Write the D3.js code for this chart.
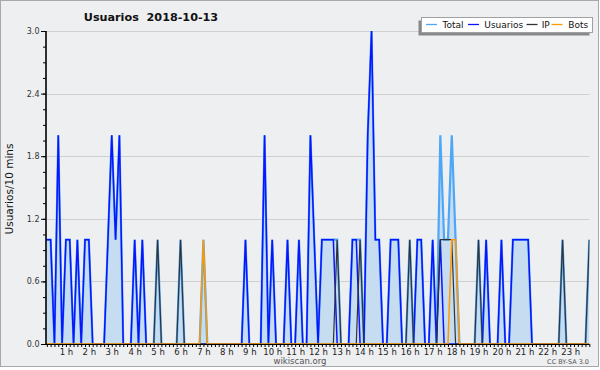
<!DOCTYPE html>
<html><head><meta charset="utf-8">
<script src="https://cdn.jsdelivr.net/npm/d3@7"></script>
<style>
html,body{margin:0;padding:0;background:#fff;}
svg{display:block;font-family:"DejaVu Sans",sans-serif;}
</style></head>
<body>
<div id="chart"></div>
<script>
// 10-minute slots of 2018-10-13 (6 per hour, 144 slots)
const hours = d3.range(0, 24);
const hourLabels = hours.map(h => h + " h");
const yTicks = [0.0, 0.6, 1.2, 1.8, 2.4, 3.0];
const seriesNames = ["Total", "Usuarios", "IP", "Bots"];

const usuarios = [
  1,1,1,0,2,0,  1,1,0,1,0,1,  1,0,0,0,0,1,  2,1,2,0,0,0,
  1,0,1,0,0,0,  0,0,0,0,0,0,  0,0,0,0,0,0,  0,0,0,0,0,0,
  0,0,0,0,0,1,  0,0,0,0,2,0,  1,0,0,0,1,0,  0,1,0,0,2,1,
  0,1,1,1,1,0,  0,0,0,1,1,0,  0,2,3,1,1,0,  0,1,1,1,0,0,
  0,0,1,1,0,0,  1,0,1,0,0,0,  0,0,0,0,0,0,  0,0,1,0,0,0,
  1,0,0,1,1,1,  1,1,0,0,0,0,  0,0,0,0,0,0,  0,0,0,0,0,0
];
const ip = [
  0,0,0,0,0,0,  0,0,0,0,0,0,  0,0,0,0,0,0,  0,0,0,0,0,0,
  0,0,0,0,0,0,  1,0,0,0,0,0,  1,0,0,0,0,0,  0,0,0,0,0,0,
  0,0,0,0,0,0,  0,0,0,0,0,0,  0,0,0,0,0,0,  0,0,0,0,0,0,
  0,0,0,0,0,1,  0,0,0,0,0,1,  0,0,0,0,0,0,  0,0,0,0,0,0,
  1,0,0,0,0,0,  0,0,1,1,1,1,  0,0,0,0,0,0,  1,0,0,0,0,0,
  0,0,0,0,0,0,  0,0,0,0,0,0,  0,0,0,0,1,0,  0,0,0,0,0,1
];
const bots = [
  0,0,0,0,0,0,  0,0,0,0,0,0,  0,0,0,0,0,0,  0,0,0,0,0,0,
  0,0,0,0,0,0,  0,0,0,0,0,0,  0,0,0,0,0,0,  1,0,0,0,0,0,
  0,0,0,0,0,0,  0,0,0,0,0,0,  0,0,0,0,0,0,  0,0,0,0,0,0,
  0,0,0,0,0,0,  0,0,0,0,0,0,  0,0,0,0,0,0,  0,0,0,0,0,0,
  0,0,0,0,0,0,  0,0,0,0,0,1,  1,0,0,0,0,0,  0,0,0,0,0,0,
  0,0,0,0,0,0,  0,0,0,0,0,0,  0,0,0,0,0,0,  0,0,0,0,0,0
];
const total = [
  1,1,1,0,2,0,  1,1,0,1,0,1,  1,0,0,0,0,1,  2,1,2,0,0,0,
  1,0,1,0,0,0,  1,0,0,0,0,0,  1,0,0,0,0,0,  1,0,0,0,0,0,
  0,0,0,0,0,1,  0,0,0,0,2,0,  1,0,0,0,1,0,  0,1,0,0,2,1,
  0,1,1,1,1,1,  0,0,0,1,1,1,  0,2,3,1,1,0,  0,1,1,1,0,0,
  1,0,1,1,0,0,  1,0,2,1,1,2,  1,0,0,0,0,0,  1,0,1,0,0,0,
  1,0,0,1,1,1,  1,1,0,0,0,0,  0,0,0,0,1,0,  0,0,0,0,0,1
];

const W = 600, H = 370;
const plot = {left: 46.5, right: 589.5, top: 31, bottom: 344};

const svg = d3.select("#chart").append("svg").attr("width", W).attr("height", H);

// background / frame
svg.append("rect").attr("x", 0.5).attr("y", 0.5).attr("width", W - 2).attr("height", 366)
  .attr("fill", "#eeeff1").attr("stroke", "#a8a8a8");

const x = d3.scaleLinear().domain([0, 143]).range([43, 589.3]);
const y = d3.scaleLinear().domain([0, 3]).range([plot.bottom, plot.top]);

// grid
svg.append("g").selectAll("line").data(yTicks.slice(1)).join("line")
  .attr("x1", plot.left).attr("x2", plot.right)
  .attr("y1", d => Math.round(y(d)) + 0.5).attr("y2", d => Math.round(y(d)) + 0.5)
  .attr("stroke", "#cfcfcf").attr("stroke-width", 1);

svg.append("clipPath").attr("id", "clip").append("rect")
  .attr("x", plot.left).attr("y", plot.top - 3).attr("width", plot.right - plot.left).attr("height", plot.bottom - plot.top + 3);

const idx = d3.range(total.length);
const g = svg.append("g").attr("clip-path", "url(#clip)");

const area = d3.area().x(i => x(i)).y0(y(0)).y1(i => y(total[i]));
g.append("path").attr("d", area(idx)).attr("fill", "#c5dcf1");

const mk = arr => d3.line().x(i => x(i)).y(i => y(arr[i]))(idx);
g.append("path").attr("d", mk(total)).attr("fill", "none").attr("stroke", "#4ea6f7").attr("stroke-width", 2.2);
g.append("path").attr("d", mk(usuarios)).attr("fill", "none").attr("stroke", "#0a14ff").attr("stroke-width", 1.5);
g.append("path").attr("d", mk(ip)).attr("fill", "none").attr("stroke", "#333333").attr("stroke-width", 1.2);
g.append("path").attr("d", mk(bots)).attr("fill", "none").attr("stroke", "#ff9900").attr("stroke-width", 1.5);

// x axis
const xAxis = d3.axisBottom(x)
  .tickValues(d3.range(1, 144))
  .tickSize(3).tickPadding(2)
  .tickFormat(i => i % 6 === 0 ? hourLabels[i / 6] : "");
const gx = svg.append("g").attr("transform", `translate(0,${plot.bottom})`).call(xAxis);
gx.select(".domain").remove();
gx.append("line").attr("x1", 41.5).attr("x2", 589.5).attr("y1", 0.5).attr("y2", 0.5).attr("stroke", "#000");
gx.selectAll(".tick line").attr("stroke", "#000");
gx.selectAll("text").attr("font-size", 8.5).attr("fill", "#222").attr("font-family", "DejaVu Sans");

// y axis minor
const yMinor = d3.axisLeft(y).tickValues(d3.range(0, 3.01, 0.15)).tickSize(3).tickFormat("");
const gy1 = svg.append("g").attr("transform", `translate(${plot.left - 0.5},0)`).call(yMinor);
gy1.select(".domain").remove();
const yMajor = d3.axisLeft(y).tickValues(yTicks).tickSize(5).tickPadding(1.5).tickFormat(d3.format(".1f"));
const gy = svg.append("g").attr("transform", `translate(${plot.left - 0.5},0)`).call(yMajor);
gy.select(".domain").remove();
gy.append("line").attr("x1", 0).attr("x2", 0).attr("y1", plot.top).attr("y2", plot.bottom + 0.5)
  .attr("stroke", "#000").attr("stroke-width", 1.6);
gy.selectAll("text").attr("font-size", 8).attr("fill", "#333").attr("font-family", "DejaVu Sans");

// title
svg.append("text").attr("x", 151).attr("y", 21).attr("text-anchor", "middle")
  .attr("font-size", 11.2).attr("font-weight", "bold").attr("fill", "#111")
  .style("white-space", "pre").text("Usuarios  2018-10-13");

// y title
svg.append("text").attr("transform", "translate(13,189) rotate(-90)").attr("text-anchor", "middle")
  .attr("font-size", 10.5).attr("fill", "#111").text("Usuarios/10 mins");

// legend
const leg = svg.append("g");
leg.append("rect").attr("x", 418.5).attr("y", 20.5).attr("width", 171).attr("height", 15).attr("fill", "#888");
leg.append("rect").attr("x", 421.5).attr("y", 17.5).attr("width", 171).attr("height", 15).attr("fill", "#fff").attr("stroke", "#a0a0a0");
const legItems = [
  {name: seriesNames[0], color: "#4ea6f7", lx: 426, tx: 442.5},
  {name: seriesNames[1], color: "#0a14ff", lx: 468, tx: 484.3},
  {name: seriesNames[2], color: "#333333", lx: 526.5, tx: 541.7},
  {name: seriesNames[3], color: "#ff9900", lx: 551.5, tx: 568.3}
];
legItems.forEach(d => {
  leg.append("line").attr("x1", d.lx).attr("x2", d.lx + 11).attr("y1", 24.5).attr("y2", 24.5)
    .attr("stroke", d.color).attr("stroke-width", 1.3);
  leg.append("text").attr("x", d.tx).attr("y", 28).attr("font-size", 9).attr("fill", "#111").text(d.name);
});

// footer
svg.append("text").attr("x", 300).attr("y", 364).attr("text-anchor", "middle").attr("font-size", 8.5).attr("fill", "#555").text("wikiscan.org");
svg.append("text").attr("x", 589).attr("y", 364).attr("text-anchor", "end").attr("font-size", 6.5).attr("fill", "#555").text("CC BY-SA 3.0");
</script>
</body></html>
